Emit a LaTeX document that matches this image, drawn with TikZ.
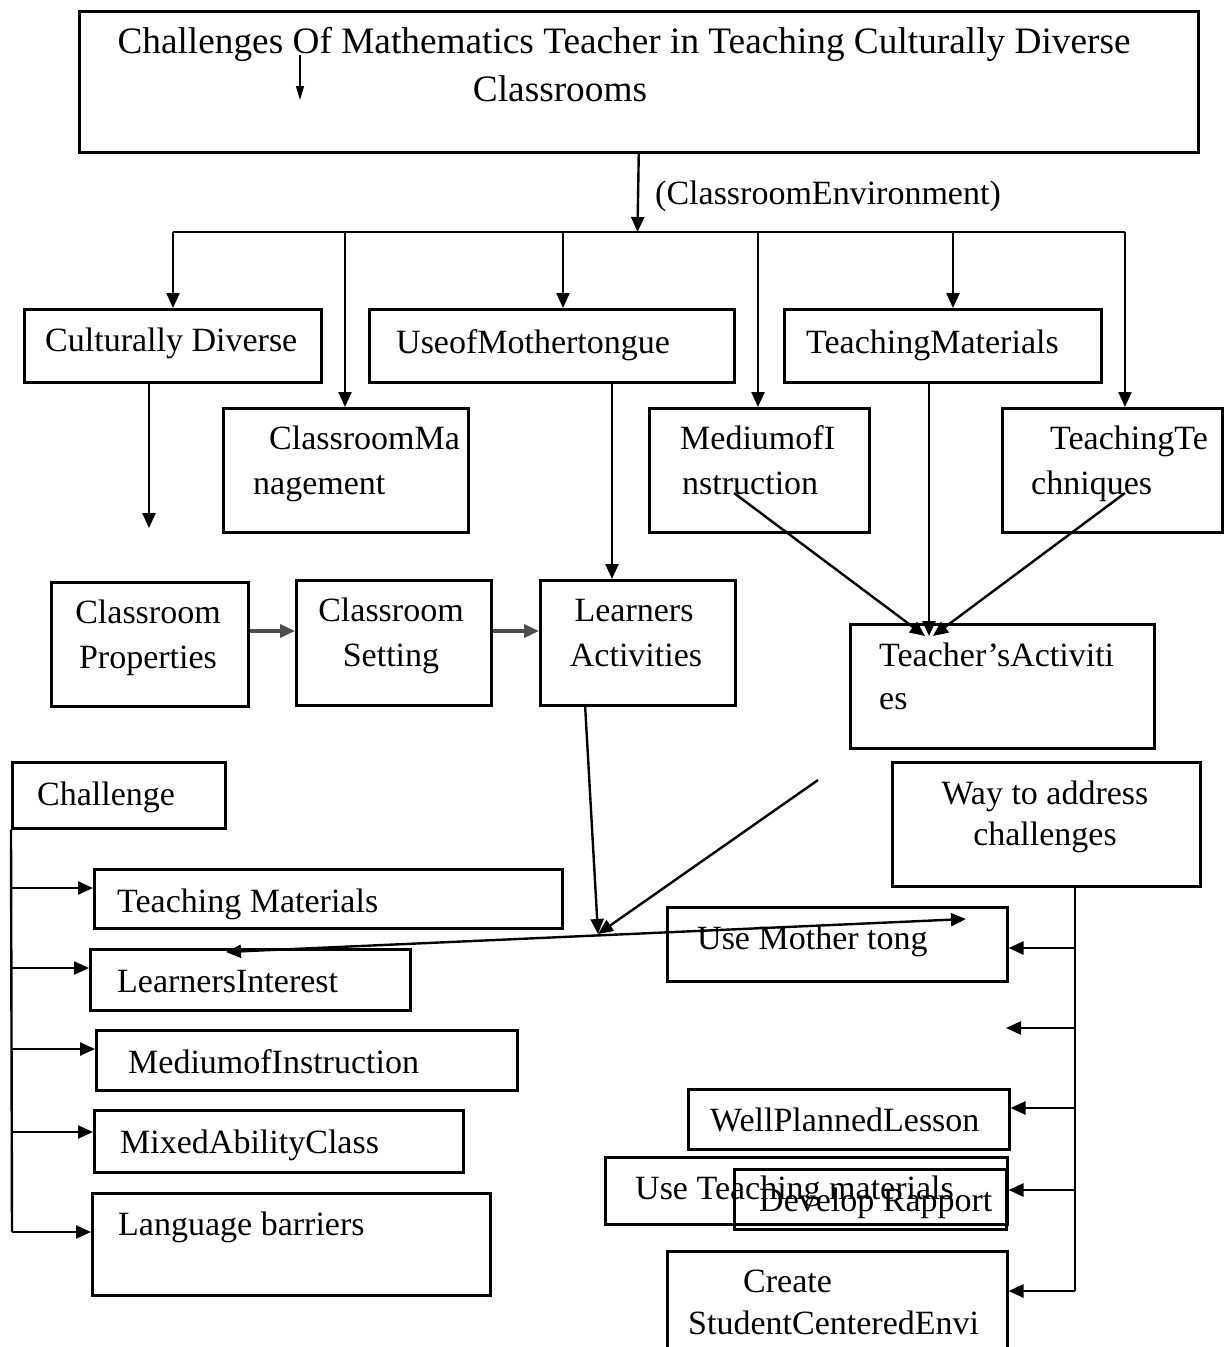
\documentclass[tikz,border=0pt]{standalone}
\usepackage{fontspec}
\setmainfont{Liberation Serif}
\usetikzlibrary{calc,arrows.meta}
\tikzset{
  box/.style={draw, line width=2.5pt, anchor=north west, inner sep=0pt},
  txt/.style={anchor=west, inner sep=0pt, text height=22pt, text depth=0pt, font=\fontsize{34}{44}\selectfont},
  ctxt/.style={txt, anchor=center},
  link/.style={line width=2.4pt, -{Triangle[length=15pt,width=13pt]}},
  both/.style={line width=2.4pt, {Triangle[length=15pt,width=13pt]}-{Triangle[length=15pt,width=13pt]}},
  soft/.style={line width=3.4pt, draw=black!70, -{Triangle[length=15pt,width=13pt]}},
  plain/.style={line width=2.4pt},
}
\newcommand\bx[5]{\node[box, minimum width=#4pt, minimum height=#5pt] (#1) at (#2,#3) {};}

\begin{document}
\begin{tikzpicture}[x=1pt, y=-1pt]
  \useasboundingbox[fill=white] (0,0) rectangle (1228,1347);
  % boxes
  \bx{top}{78}{10}{1119}{141}
  \bx{cdiv}{23}{308}{297}{73}
  \bx{cman}{222}{407}{245}{124}
  \bx{umt}{368}{308}{365}{73}
  \bx{mofi}{648}{407}{220}{124}
  \bx{tmat}{783}{308}{317}{73}
  \bx{ttec}{1001}{407}{220}{124}
  \bx{cprop}{50}{581}{197}{124}
  \bx{cset}{295}{579}{195}{125}
  \bx{lact}{539}{579}{195}{125}
  \bx{tact}{849}{623}{304}{124}
  \bx{way}{891}{761}{308}{124}
  \bx{chal}{11}{761}{213}{66}
  \bx{ctm}{93}{868}{468}{59}
  \bx{cli}{89}{948}{320}{61}
  \bx{cmi}{95}{1029}{421}{60}
  \bx{cmac}{93}{1109}{369}{62}
  \bx{clb}{91}{1192}{398}{102}
  \bx{wmt}{666}{906}{340}{74}
  \bx{wpl}{687}{1088}{321}{60}
  \bx{wtm}{604}{1156}{402}{67}
  \bx{wdr}{733}{1168}{272}{60}
  \bx{wcs}{666}{1250}{340}{150}

  % texts
  \node[ctxt, font=\fontsize{37.3}{48}\selectfont] (tTop1) at (624,42) {Challenges Of Mathematics Teacher in Teaching Culturally Diverse};
  \node[ctxt, font=\fontsize{37.3}{48}\selectfont] (tTop2) at (560,90) {Classrooms};
  \node[txt] (tEnv) at (655,193) {(ClassroomEnvironment)};
  \node[txt] (tCdiv) at (45,340) {Culturally Diverse};
  \node[txt] (tCman1) at (269,438) {ClassroomMa};
  \node[txt] (tCman2) at (253,483) {nagement};
  \node[txt] (tUmt) at (396,342) {UseofMothertongue};
  \node[txt] (tMofi1) at (680,438) {MediumofI};
  \node[txt] (tMofi2) at (682,483) {nstruction};
  \node[txt] (tTmat) at (806,342) {TeachingMaterials};
  \node[txt] (tTtec1) at (1050,438) {TeachingTe};
  \node[txt] (tTtec2) at (1031,483) {chniques};
  \node[ctxt] (tCprop1) at (148,612) {Classroom};
  \node[ctxt] (tCprop2) at (148,657) {Properties};
  \node[ctxt] (tCset1) at (391,610) {Classroom};
  \node[ctxt] (tCset2) at (391,655) {Setting};
  \node[ctxt] (tLact1) at (634,610) {Learners};
  \node[ctxt] (tLact2) at (636,655) {Activities};
  \node[txt] (tTact1) at (879,655) {Teacher’sActiviti};
  \node[txt] (tTact2) at (879,698) {es};
  \node[ctxt] (tWay1) at (1045,793) {Way to address};
  \node[ctxt] (tWay2) at (1045,834) {challenges};
  \node[txt] (tChal) at (37,794) {Challenge};
  \node[txt] (tCtm) at (117,901) {Teaching Materials};
  \node[txt] (tCli) at (117,981) {LearnersInterest};
  \node[txt] (tCmi) at (128,1062) {MediumofInstruction};
  \node[txt] (tCmac) at (120,1142) {MixedAbilityClass};
  \node[txt] (tClb) at (118,1224) {Language barriers};
  \node[txt] (tWmt) at (697,938) {Use Mother tong};
  \node[txt] (tWpl) at (710,1120) {WellPlannedLesson};
  \node[txt] (tWtm) at (635,1188) {Use Teaching materials};
  \node[txt] (tWdr) at (759,1200) {Develop Rapport};
  \node[txt] (tWcs1) at (743,1281) {Create};
  \node[txt] (tWcs2) at (688,1323) {StudentCenteredEnvi};

  % top arrow and bus
  \coordinate (bus) at (637.5,232);
  \coordinate (busL) at (173,232);
  \coordinate (busR) at (1125,232);
  \coordinate (stray1) at (300,55);
  \coordinate (stray2) at (300,100);
  \draw[line width=1.3pt, -{Triangle[length=14pt,width=8pt]}] (stray1) -- (stray2);
  \draw[link] (top.south) -- (bus);
  \draw[plain] (busL) -- (busR);
  \foreach \n/\x in {cdiv/173,cman/345,umt/563,mofi/758,tmat/953,ttec/1125}{
    \coordinate (drop) at (\x,232);
    \draw[link] (drop) -- (drop |- \n.north);
  }

  % downward links
  \coordinate (cdivEnd) at (149,528);
  \draw[link] (cdivEnd |- cdiv.south) -- (cdivEnd);
  \coordinate (umtX) at (612,0);
  \draw[link] (umt.south -| umtX) -- (lact.north -| umtX);
  \coordinate (tin) at (929,636);
  \coordinate (mofiA) at (734,493);
  \coordinate (ttecA) at (1125,493);
  \draw[link] (tmat.south -| tin) -- (tin);
  \draw[link] (mofiA) -- ($(tin)+(-4,0)$);
  \draw[link] (ttecA) -- ($(tin)+(4,0)$);

  % classroom row
  \coordinate (row) at (0,631);
  \draw[soft] (cprop.east |- row) -- (cset.west |- row);
  \draw[soft] (cset.east |- row) -- (lact.west |- row);

  % crossing links
  \coordinate (lactA) at (585,704);
  \coordinate (meet) at (598,934);
  \coordinate (freeA) at (818,780);
  \coordinate (liTip) at (226,952);
  \coordinate (wmtTip) at (966,919);
  \draw[link] (lactA) -- (meet);
  \draw[link] (freeA) -- (meet);
  \draw[both] (liTip) -- (wmtTip);

  % challenge branches
  \coordinate (chalEnd) at (12,1232);
  \draw[plain] (chal.south west) -- (chalEnd);
  \foreach \n/\y in {ctm/888,cli/968,cmi/1049,cmac/1132,clb/1232}{
    \coordinate (br) at (12,\y);
    \draw[link] (br) -- (br -| \n.west);
  }

  % ways branches
  \coordinate (wayX) at (1075,0);
  \coordinate (wayEnd) at (1075,1291);
  \coordinate (gap) at (1006,1028);
  \draw[plain] (way.south -| wayX) -- (wayEnd);
  \draw[link] (wayX |- gap) -- (gap);
  \foreach \n/\y in {wmt/948,wpl/1108,wtm/1190,wcs/1291}{
    \coordinate (br) at (1075,\y);
    \draw[link] (br) -- (br -| \n.east);
  }
\end{tikzpicture}
\end{document}
